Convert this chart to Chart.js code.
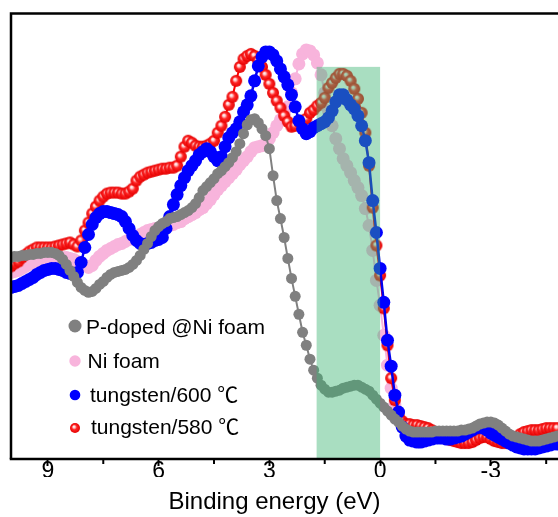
<!DOCTYPE html>
<html>
<head>
<meta charset="utf-8">
<script src="https://cdn.jsdelivr.net/npm/chart.js@4.4.1/dist/chart.umd.min.js"></script>
<style>
  html, body { margin: 0; padding: 0; background: #fff; overflow: hidden; }
  #wrap { width: 558px; height: 517px; }
</style>
</head>
<body>
<div id="wrap"><canvas id="vb" width="558" height="517"></canvas></div>
<script>
// Valence-band spectra: binding energy (eV) vs. intensity (a.u.)
const energy = [
  10.0, 9.9, 9.8, 9.7, 9.6, 9.5, 9.4, 9.3, 9.2, 9.1,
  9.0, 8.9, 8.8, 8.7, 8.6, 8.5, 8.4, 8.3, 8.2, 8.1,
  8.0, 7.9, 7.8, 7.7, 7.6, 7.5, 7.4, 7.3, 7.2, 7.1,
  7.0, 6.9, 6.8, 6.7, 6.6, 6.5, 6.4, 6.3, 6.2, 6.1,
  6.0, 5.9, 5.8, 5.7, 5.6, 5.5, 5.4, 5.3, 5.2, 5.1,
  5.0, 4.9, 4.8, 4.7, 4.6, 4.5, 4.4, 4.3, 4.2, 4.1,
  4.0, 3.9, 3.8, 3.7, 3.6, 3.5, 3.4, 3.3, 3.2, 3.1,
  3.0, 2.9, 2.8, 2.7, 2.6, 2.5, 2.4, 2.3, 2.2, 2.1,
  2.0, 1.9, 1.8, 1.7, 1.6, 1.5, 1.4, 1.3, 1.2, 1.1,
  1.0, 0.9, 0.8, 0.7, 0.6, 0.5, 0.4, 0.3, 0.2, 0.1,
  0.0, -0.1, -0.2, -0.3, -0.4, -0.5, -0.6, -0.7, -0.8, -0.9,
  -1.0, -1.1, -1.2, -1.3, -1.4, -1.5, -1.6, -1.7, -1.8, -1.9,
  -2.0, -2.1, -2.2, -2.3, -2.4, -2.5, -2.6, -2.7, -2.8, -2.9,
  -3.0, -3.1, -3.2, -3.3, -3.4, -3.5, -3.6, -3.7, -3.8, -3.9,
  -4.0, -4.1, -4.2, -4.3, -4.4, -4.5, -4.6, -4.7, -4.8
];

const pDopedNiFoam = [
  201, 202, 202, 203, 203, 204, 204, 205, 205, 206,
  206, 206, 205, 203, 199, 194, 188, 182, 176, 171,
  168, 166, 167, 170, 174, 177, 181, 184, 186, 187,
  188, 189, 191, 194, 198, 203, 209, 215, 222, 228,
  232, 235, 237, 240, 241, 242, 244, 246, 248, 251,
  255, 261, 268, 272, 276, 280, 285, 288, 292, 296,
  301, 307, 315, 325, 334, 339, 340, 336, 330, 323,
  310, 283, 258, 240, 221, 200, 180, 162, 144, 126,
  113, 99, 88, 80, 73, 69, 66, 66, 67, 68,
  70, 71, 72, 73, 73, 71, 69, 67, 63, 59,
  55, 51, 47, 43, 39, 36, 32, 29, 27, 26,
  26, 26, 26, 26, 26, 27, 27, 27, 27, 27,
  27, 27, 28, 28, 29, 30, 32, 34, 35, 36,
  36, 35, 33, 30, 27, 24, 22, 21, 20, 19,
  18, 17, 17, 17, 18, 19, 20, 21, 22
];

const niFoam = [
  186, 187, 188, 190, 192, 194, 195, 197, 198, 199,
  200, 200, 201, 201, 201, 201, 200, 199, 197, 195,
  193, 191, 193, 198, 202, 205, 208, 210, 212, 214,
  215, 217, 219, 220, 222, 224, 226, 228, 229, 230,
  230, 231, 232, 233, 234, 236, 237, 240, 242, 244,
  246, 249, 251, 255, 259, 264, 269, 273, 277, 281,
  285, 289, 294, 298, 302, 307, 311, 312, 313, 315,
  320, 326, 333, 339, 344, 352, 366, 380, 395, 405,
  409, 408, 404, 396, 384, 366, 348, 333, 320, 310,
  300, 293, 286, 278, 271, 263, 250, 233, 208, 178,
  153, 123, 93, 70, 53, 40, 32, 28, 26, 25,
  24, 24, 24, 24, 24, 24, 24, 24, 24, 24,
  24, 24, 25, 25, 25, 25, 26, 27, 27, 27,
  27, 26, 25, 24, 23, 22, 21, 20, 20, 19,
  19, 19, 19, 19, 19, 20, 20, 21, 21
];

const tungsten600 = [
  171, 172, 173, 175, 177, 179, 181, 184, 186, 188,
  189, 190, 190, 189, 188, 186, 185, 184, 186, 196,
  211, 224, 234, 241, 245, 247, 247, 246, 245, 244,
  242, 237, 230, 223, 218, 215, 214, 215, 216, 218,
  219, 221, 230, 242, 254, 264, 273, 281, 288, 293,
  298, 304, 307, 310, 307, 302, 298, 302, 312, 321,
  326, 330, 337, 347, 354, 363, 378, 393, 402, 407,
  407, 404, 398, 390, 382, 374, 364, 352, 338, 330,
  325, 327, 331, 333, 335, 337, 341, 348, 357, 364,
  364, 359, 354, 350, 343, 333, 318, 296, 258, 226,
  190, 156, 118, 92, 63, 46, 31, 22, 18, 17,
  16, 16, 17, 18, 19, 20, 20, 20, 19, 19,
  20, 21, 22, 24, 26, 28, 30, 31, 30, 28,
  25, 23, 21, 19, 17, 15, 13, 11, 10, 9,
  9, 9, 9, 10, 11, 12, 13, 14, 14
];

const tungsten580 = [
  192, 195, 197, 201, 204, 207, 209, 211, 211, 211,
  211, 211, 212, 213, 214, 215, 216, 214, 212, 218,
  228, 236, 245, 252, 258, 262, 265, 266, 266, 266,
  265, 265, 267, 270, 278, 282, 284, 286, 287, 288,
  289, 290, 290, 291, 291, 293, 302, 312, 318, 316,
  313, 312, 312, 313, 315, 318, 326, 333, 342, 354,
  362, 378, 392, 400, 403, 405, 403, 398, 392, 384,
  375, 366, 358, 351, 343, 337, 332, 333, 337, 338,
  340, 346, 349, 353, 356, 361, 371, 376, 381, 385,
  385, 383, 378, 370, 360, 346, 326, 293, 251, 213,
  183, 150, 113, 80, 58, 43, 37, 34, 34, 33,
  33, 32, 31, 30, 28, 26, 24, 21, 19, 18,
  17, 16, 15, 15, 15, 16, 18, 20, 21, 21,
  19, 17, 16, 15, 15, 16, 18, 21, 24, 26,
  27, 28, 28, 28, 29, 30, 30, 30, 30
];

const seriesNames = ['P-doped @Ni foam', 'Ni foam', 'tungsten/600 \u2103', 'tungsten/580 \u2103'];
const majorTicks = [9, 6, 3, 0, -3];
const xTitle = 'Binding energy (eV)';
// highlighted energy window near the Fermi level (eV) and its height (a.u.)
const bandRange = [1.72, 0];
const bandHeight = 392;

const FONT = "'Liberation Sans', Arial, 'Noto Sans CJK SC', sans-serif";

function sphere(r) {
  const s = Math.ceil(2 * r + 2);
  const c = document.createElement('canvas');
  c.width = s; c.height = s;
  const g = c.getContext('2d');
  const cx = s / 2, cy = s / 2;
  const grad = g.createRadialGradient(cx - r * 0.25, cy - r * 0.3, 0, cx, cy, r);
  grad.addColorStop(0, '#ffffff');
  grad.addColorStop(0.22, '#ffd0d0');
  grad.addColorStop(0.5, '#ff2626');
  grad.addColorStop(1, '#e40000');
  g.fillStyle = grad;
  g.beginPath();
  g.arc(cx, cy, r, 0, Math.PI * 2);
  g.fill();
  return c;
}
const redBall = sphere(6);
const redBallSmall = sphere(5);

const pts = (vals) => energy.map((e, i) => ({ x: e, y: vals[i] }));

const styles = [
  { color: '#808080', line: '#808080', r: 5.5, lw: 2, order: 0, legR: 6.5 },
  { color: '#f8b4dc', line: '#f8b4dc', r: 6.5, lw: 2, order: 3, legR: 5.7 },
  { color: '#0000ff', line: '#0000ee', r: 6.5, lw: 2.5, order: 1, legR: 5.3 },
  { color: '#ff0000', line: '#ff0000', r: 6, lw: 2, order: 2, legR: 5, img: true }
];
const seriesValues = [pDopedNiFoam, niFoam, tungsten600, tungsten580];

const datasets = seriesValues.map((vals, i) => {
  const st = styles[i];
  return {
    label: seriesNames[i],
    data: pts(vals),
    showLine: true,
    borderColor: st.line,
    borderWidth: st.lw,
    backgroundColor: st.color,
    pointBackgroundColor: st.color,
    pointBorderWidth: 0,
    pointRadius: st.r,
    pointStyle: st.img ? redBall : 'circle',
    tension: 0,
    order: st.order,
    clip: 0
  };
});

const isMajor = (v) => majorTicks.some(t => Math.abs(t - v) < 1e-6);

const framePlugin = {
  id: 'frame',
  afterDatasetsDraw(chart) {
    const { ctx, chartArea: a, scales: { x, y } } = chart;
    // shaded energy window
    const x0 = x.getPixelForValue(bandRange[0]);
    const x1 = x.getPixelForValue(bandRange[1]);
    const yt = y.getPixelForValue(bandHeight);
    ctx.save();
    ctx.fillStyle = 'rgba(60,179,113,0.44)';
    ctx.fillRect(x0, yt, x1 - x0, a.bottom - yt);
    ctx.restore();
  },
  afterDraw(chart) {
    const { ctx, chartArea: a, scales: { x } } = chart;
    ctx.save();
    ctx.strokeStyle = '#000';
    ctx.lineWidth = 2.5;
    ctx.beginPath();
    ctx.moveTo(a.left, a.bottom);
    ctx.lineTo(a.left, a.top);
    ctx.lineTo(chart.width + 5, a.top);
    ctx.stroke();
    ctx.beginPath();
    ctx.moveTo(a.left - 1.25, a.bottom);
    ctx.lineTo(chart.width + 5, a.bottom);
    ctx.stroke();
    // minor ticks
    ctx.lineWidth = 2;
    x.ticks.forEach(t => {
      if (isMajor(t.value)) return;
      const px = x.getPixelForValue(t.value);
      ctx.beginPath();
      ctx.moveTo(px, a.bottom);
      ctx.lineTo(px, a.bottom + 5);
      ctx.stroke();
    });

    // axis title, centred under the visible energy range 10 … -4.5 eV
    ctx.fillStyle = '#000';
    ctx.font = "24px " + FONT;
    ctx.textAlign = 'center';
    ctx.textBaseline = 'middle';
    ctx.fillText(xTitle, 274.5, 502);

    // legend
    const rows = [
      { yMark: 326, yBase: 334, xText: 86 },
      { yMark: 361, yBase: 368, xText: 87.5 },
      { yMark: 395, yBase: 401.5, xText: 90 },
      { yMark: 428, yBase: 434, xText: 91 }
    ];
    ctx.font = "21px " + FONT;
    ctx.textBaseline = 'alphabetic';
    ctx.textAlign = 'left';
    rows.forEach((row, i) => {
      const st = styles[i];
      if (st.img) {
        ctx.drawImage(redBallSmall, 75 - redBallSmall.width / 2, row.yMark - redBallSmall.height / 2);
      } else {
        ctx.fillStyle = st.color;
        ctx.beginPath();
        ctx.arc(75, row.yMark, st.legR, 0, Math.PI * 2);
        ctx.fill();
      }
      ctx.fillStyle = '#000';
      ctx.fillText(seriesNames[i], row.xText, row.yBase);
    });
    ctx.restore();
  }
};

new Chart(document.getElementById('vb'), {
  type: 'scatter',
  data: { datasets },
  options: {
    responsive: false,
    animation: false,
    devicePixelRatio: 1,
    layout: { autoPadding: false, padding: { left: 11, top: 13.5, right: 0, bottom: 40 } },
    plugins: { legend: { display: false }, tooltip: { enabled: false } },
    scales: {
      x: {
        type: 'linear',
        reverse: true,
        min: -4.82,
        max: 10,
        border: { display: false },
        grid: {
          drawOnChartArea: false,
          drawTicks: true,
          tickLength: 7,
          tickWidth: 2,
          tickColor: (c) => (c.tick && isMajor(c.tick.value)) ? '#000' : 'rgba(0,0,0,0)'
        },
        ticks: {
          stepSize: 1.5,
          includeBounds: false,
          autoSkip: false,
          maxRotation: 0,
          padding: -6,
          color: '#000',
          font: { family: FONT, size: 23, lineHeight: 1 },
          callback: (v) => isMajor(v) ? String(Math.round(v)) : ''
        },
        title: { display: false }
      },
      y: { display: false, min: -1, max: 445.5 }
    }
  },
  plugins: [framePlugin]
});
</script>
</body>
</html>
